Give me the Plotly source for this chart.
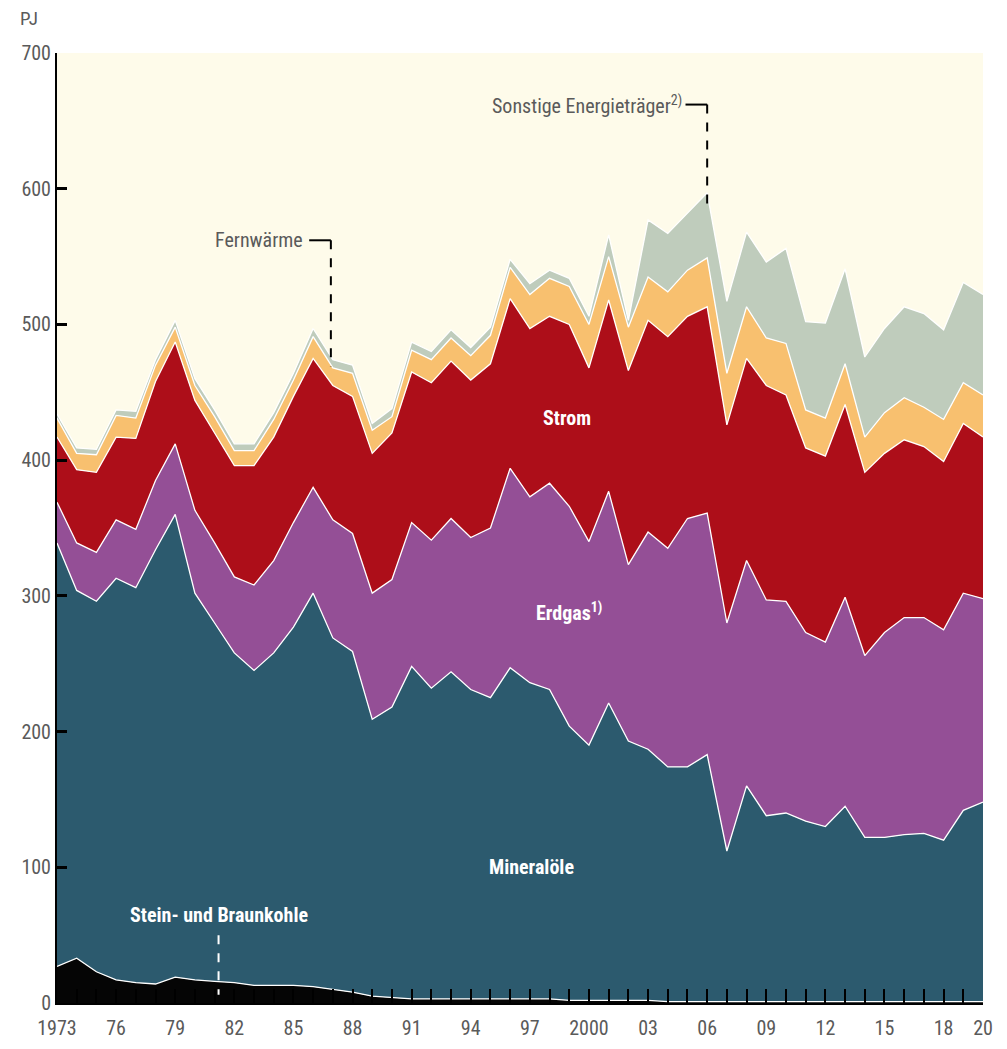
import plotly.graph_objects as go

years = list(range(1973, 2021))

kohle = [27, 33, 23, 17, 15, 14, 19, 17, 16, 15, 13, 13, 13, 12, 10, 8, 5, 4, 3, 3, 3, 3, 3, 3,
         3, 3, 2, 2, 2, 2, 2, 1, 1, 1, 1, 1, 1, 1, 1, 1, 1, 1, 1, 1, 1, 1, 1, 1]
mineraloele = [312, 271, 273, 296, 291, 320, 341, 285, 264, 243, 232, 245, 264, 290, 259, 251,
               204, 214, 245, 229, 241, 228, 222, 244, 233, 228, 202, 188, 219, 191, 185, 173,
               173, 182, 111, 159, 137, 139, 133, 129, 144, 121, 121, 123, 124, 119, 141, 147]
erdgas = [30, 35, 36, 43, 43, 51, 52, 61, 59, 56, 63, 68, 77, 78, 87, 87,
          93, 94, 106, 109, 113, 112, 125, 147, 137, 152, 162, 150, 156, 130, 160, 161,
          183, 178, 168, 166, 159, 156, 139, 136, 154, 134, 151, 160, 159, 155, 160, 150]
strom = [48, 54, 59, 61, 67, 73, 75, 81, 81, 82, 88, 91, 93, 95, 99, 101,
         103, 108, 111, 116, 116, 116, 121, 125, 124, 123, 134, 128, 141, 143, 156, 156,
         149, 152, 146, 149, 158, 152, 136, 137, 142, 135, 132, 131, 126, 124, 125, 119]
fernwaerme = [14, 12, 13, 16, 15, 12, 11, 11, 12, 11, 11, 13, 12, 16, 13, 17,
              17, 12, 16, 17, 17, 18, 21, 23, 25, 28, 28, 32, 32, 32, 32, 33,
              34, 36, 38, 38, 35, 38, 28, 28, 30, 26, 30, 31, 29, 31, 30, 31]
sonstige = [3, 4, 4, 4, 5, 4, 5, 5, 5, 5, 5, 5, 5, 6, 6, 6,
            5, 6, 6, 6, 6, 6, 6, 6, 8, 6, 6, 6, 16, 5, 42, 43,
            42, 48, 53, 55, 56, 70, 65, 70, 70, 59, 62, 67, 69, 66, 74, 74]

series = [
    ("Stein- und Braunkohle", kohle, "#050505"),
    ("Mineralöle", mineraloele, "#2C5A6E"),
    ("Erdgas", erdgas, "#944F96"),
    ("Strom", strom, "#AD0E19"),
    ("Fernwärme", fernwaerme, "#F8C06F"),
    ("Sonstige Energieträger", sonstige, "#BFCCBC"),
]

label_years = [1973, 1976, 1979, 1982, 1985, 1988, 1991, 1994, 1997, 2000,
               2003, 2006, 2009, 2012, 2015, 2018, 2020]
tick_text = []
for y in years:
    if y in label_years:
        tick_text.append(str(y) if y in (1973, 2000) else str(y)[2:])
    else:
        tick_text.append("")

FONT = "Roboto Condensed, Roboto, sans-serif"
GREY = "#5a5a5a"

fig = go.Figure()
for name, vals, col in series:
    fig.add_trace(go.Scatter(
        x=years, y=vals, name=name, stackgroup="one", mode="lines",
        line=dict(color="white", width=1.3), fillcolor=col,
    ))

# page body has an 8px margin, so the margins are shifted by that
fig.update_layout(
    width=1007, height=1049,
    margin=dict(l=49, r=32, t=45, b=54),
    paper_bgcolor="white", plot_bgcolor="#FEFBEA",
    showlegend=False,
    font=dict(family=FONT, size=20, color=GREY),
)
fig.update_xaxes(
    range=[1973, 2020], tickvals=years, ticktext=tick_text,
    ticks="inside", ticklen=14, tickwidth=2, tickcolor="black",
    showline=True, linecolor="black", linewidth=2, showgrid=False,
    zeroline=False, tickfont=dict(size=20, color=GREY), ticklabelstandoff=6,
)
fig.update_yaxes(
    range=[0, 700], tickvals=[0, 100, 200, 300, 400, 500, 600, 700],
    ticks="inside", ticklen=10, tickwidth=3, tickcolor="black",
    showline=True, linecolor="black", linewidth=2, showgrid=False,
    zeroline=False, tickfont=dict(size=20, color=GREY),
)

# labels
fig.add_annotation(x=-0.042, y=1.036, xref="paper", yref="paper", text="PJ",
                   showarrow=False, font=dict(size=19, color=GREY),
                   xanchor="left", yanchor="middle")
fig.add_annotation(x=2004.8, y=662, text="Sonstige Energieträger<sup>2)</sup>",
                   showarrow=False, xanchor="right", font=dict(size=20, color=GREY))
fig.add_annotation(x=1985.6, y=562, text="Fernwärme", showarrow=False,
                   xanchor="right", font=dict(size=20, color=GREY))
fig.add_annotation(x=1998.9, y=431, text="<b>Strom</b>", showarrow=False,
                   font=dict(size=20, color="white"))
fig.add_annotation(x=1999.0, y=288, text="<b>Erdgas<sup>1)</sup></b>", showarrow=False,
                   font=dict(size=20, color="white"))
fig.add_annotation(x=1997.1, y=100, text="<b>Mineralöle</b>", showarrow=False,
                   font=dict(size=20, color="white"))
fig.add_annotation(x=1981.2, y=65, text="<b>Stein- und Braunkohle</b>", showarrow=False,
                   font=dict(size=20, color="white"))

# leader lines
fig.add_shape(type="line", x0=2004.9, x1=2006, y0=662, y1=662,
              line=dict(color="black", width=2))
fig.add_shape(type="line", x0=2006, x1=2006, y0=662, y1=584,
              line=dict(color="black", width=2, dash="dash"))
fig.add_shape(type="line", x0=1985.8, x1=1986.9, y0=562, y1=562,
              line=dict(color="black", width=2))
fig.add_shape(type="line", x0=1986.9, x1=1986.9, y0=562, y1=469,
              line=dict(color="black", width=2, dash="dash"))
fig.add_shape(type="line", x0=1981.2, x1=1981.2, y0=50, y1=6,
              line=dict(color="white", width=2, dash="dash"))

fig.write_html("out.html")
